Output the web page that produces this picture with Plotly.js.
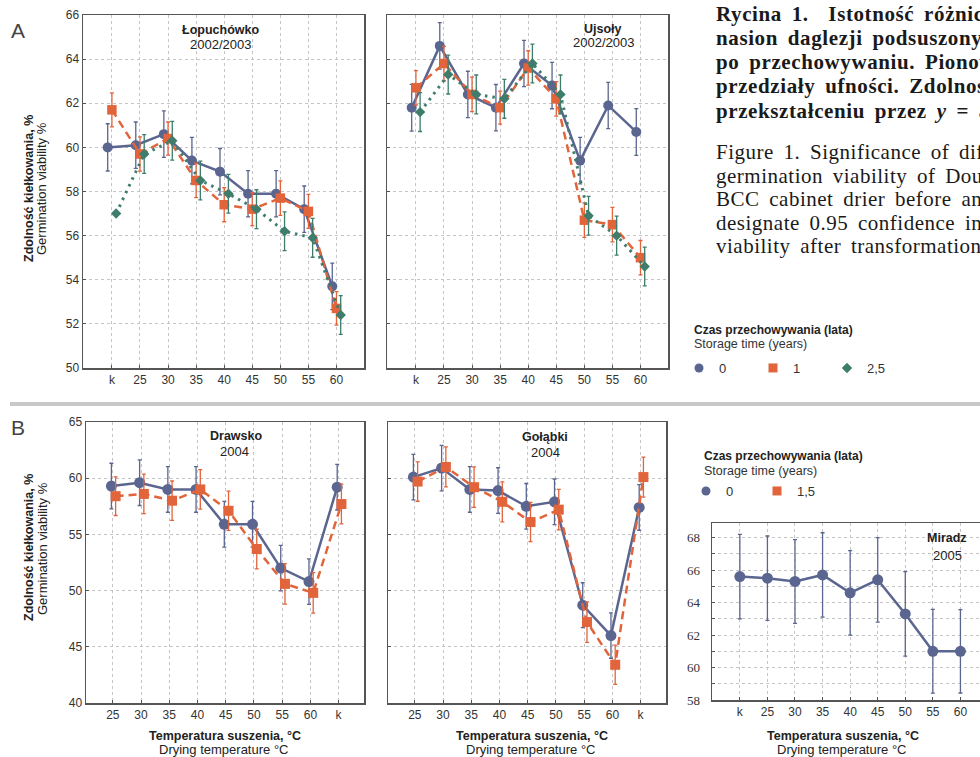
<!DOCTYPE html>
<html>
<head>
<meta charset="utf-8">
<script src="https://cdn.plot.ly/plotly-3.0.1.min.js"></script>
<style>
html,body{margin:0;padding:0;overflow:hidden;background:#fff;}
#chart{width:1000px;height:757px;}
</style>
</head>
<body>
<div id="chart"></div>
<script>
// ---------- DATA ----------
const catsA = ['k','25','30','35','40','45','50','55','60'];
const catsB = ['25','30','35','40','45','50','55','60','k'];
const catsC = ['k','25','30','35','40','45','50','55','60'];

// A: Łopuchówko 2002/2003
const lop0   = [60.0, 60.1, 60.6, 59.4, 58.9, 57.9, 57.9, 57.2, 53.7];
const lop0E  = [1.07, 1.05, 1.05, 1.05, 1.05, 1.05, 1.05, 1.05, 1.05];
const lop1   = [61.7, 59.7, 60.4, 58.5, 57.4, 57.2, 57.7, 57.1, 52.7];
const lop1E  = [0.77, 0.78, 0.75, 0.78, 0.77, 0.75, 0.78, 0.77, 0.76];
const lop25  = [57.0, 59.7, 60.3, 58.5, 57.9, 57.2, 56.2, 55.9, 52.4];
const lop25E = [0.0, 0.88, 0.88, 0.88, 0.88, 0.88, 0.88, 0.88, 0.88];

// A: Ujsoły 2002/2003
const ujs0   = [61.8, 64.6, 62.4, 61.8, 63.8, 62.8, 59.4, 61.9, 60.7];
const ujs0E  = [1.06, 1.05, 1.05, 1.05, 1.05, 1.05, 1.05, 1.05, 1.06];
const ujs1   = [62.7, 63.8, 62.4, 61.8, 63.6, 62.2, 56.7, 56.5, 55.0];
const ujs1E  = [0.78, 0.78, 0.78, 0.75, 0.78, 0.78, 0.78, 0.78, 0.78];
const ujs25  = [61.6, 63.3, 62.4, 62.2, 63.8, 62.4, 56.9, 56.0, 54.6];
const ujs25E = [0.88, 0.88, 0.88, 0.88, 0.88, 0.88, 0.88, 0.88, 0.88];

// B: Drawsko 2004
const dra0   = [59.3, 59.6, 59.0, 59.0, 55.9, 55.9, 52.0, 50.8, 59.2];
const dra0E  = [2.03, 2.03, 2.03, 2.03, 2.03, 2.03, 2.03, 2.03, 2.03];
const dra15  = [58.4, 58.6, 58.0, 59.0, 57.1, 53.7, 50.6, 49.8, 57.7];
const dra15E = [1.72, 1.76, 1.75, 1.76, 1.75, 1.76, 1.8, 1.8, 1.77];

// B: Gołąbki 2004
const gol0   = [60.1, 60.9, 59.0, 58.9, 57.5, 57.9, 48.7, 46.0, 57.4];
const gol0E  = [2.02, 2.02, 2.03, 2.03, 2.03, 2.03, 2.0, 2.02, 2.03];
const gol15  = [59.7, 61.0, 59.2, 57.9, 56.1, 57.2, 47.2, 43.4, 60.1];
const gol15E = [1.75, 1.78, 1.8, 1.78, 1.75, 1.8, 1.8, 1.75, 1.78];

// B: Miradz 2005
const mir0   = [65.6, 65.5, 65.3, 65.7, 64.6, 65.4, 63.3, 61.0, 61.0];
const mir0E  = [2.6, 2.6, 2.58, 2.6, 2.6, 2.6, 2.6, 2.58, 2.57];

// ---------- STYLE ----------
const W = 1000, H = 757;
const BLUE = '#5a6590', ORANGE = '#e2643a', GREEN = '#3e7d6c';
const FONT = 'Liberation Sans, Arial, sans-serif';
const SERIF = 'Liberation Serif, Times New Roman, serif';
const px = x => x / W;
const py = y => 1 - y / H;
const idx = (arr, off) => arr.map((_, i) => i + off);

function series(xa, ya, cats, vals, errs, off, kind, mSize) {
  const st = {
    c0: {color: BLUE, symbol: 'circle', dash: 'solid', width: 2.5},
    c1: {color: ORANGE, symbol: 'square', dash: '8px,5px', width: 2.5},
    c2: {color: GREEN, symbol: 'diamond', dash: '2.5px,5px', width: 3}
  }[kind];
  return {
    type: 'scatter', mode: 'lines+markers',
    x: idx(cats, off), y: vals, xaxis: xa, yaxis: ya,
    line: {color: st.color, width: st.width, dash: st.dash},
    marker: {color: st.color, symbol: st.symbol, size: mSize},
    error_y: {type: 'data', array: errs, visible: true, color: st.color, thickness: 1.3, width: 2},
    showlegend: false, hoverinfo: 'skip'
  };
}

const traces = [
  series('x','y', catsA, lop0, lop0E, -0.15, 'c0', 10),
  series('x','y', catsA, lop1, lop1E, 0.0, 'c1', 9.5),
  series('x','y', catsA, lop25, lop25E, 0.15, 'c2', 8),
  series('x2','y2', catsA, ujs0, ujs0E, -0.15, 'c0', 10),
  series('x2','y2', catsA, ujs1, ujs1E, 0.0, 'c1', 9.5),
  series('x2','y2', catsA, ujs25, ujs25E, 0.15, 'c2', 8),
  series('x3','y3', catsB, dra0, dra0E, -0.05, 'c0', 11),
  series('x3','y3', catsB, dra15, dra15E, 0.1, 'c1', 10),
  series('x4','y4', catsB, gol0, gol0E, -0.05, 'c0', 11),
  series('x4','y4', catsB, gol15, gol15E, 0.1, 'c1', 10),
  series('x5','y5', catsC, mir0, mir0E, 0.0, 'c0', 11)
];

// legend entries (markers only)
function legEntry(name, color, symbol, size, leg) {
  return {type: 'scatter', mode: 'markers', x: [null], y: [null], name: name,
    marker: {color: color, symbol: symbol, size: size}, legend: leg, showlegend: true, hoverinfo: 'skip'};
}
traces.push(legEntry('0', BLUE, 'circle', 9, 'legend'));
traces.push(legEntry('1', ORANGE, 'square', 9, 'legend'));
traces.push(legEntry('2,5', GREEN, 'diamond', 8, 'legend'));
traces.push(legEntry('0', BLUE, 'circle', 9, 'legend2'));
traces.push(legEntry('1,5', ORANGE, 'square', 9, 'legend2'));

function xax(dom, cats, range, anchor) {
  return {
    domain: dom, range: range, anchor: anchor,
    tickmode: 'array', tickvals: cats.map((_, i) => i), ticktext: cats,
    showline: true, mirror: true, linecolor: '#555', linewidth: 1.5,
    showgrid: true, gridcolor: '#c4c4c4', griddash: 'dot', gridwidth: 1,
    ticks: 'inside', ticklen: 3, tickcolor: '#555', zeroline: false,
    tickfont: {family: FONT, size: 12, color: '#333'}, fixedrange: true, automargin: false
  };
}
function yax(dom, range, dtick, labels, anchor) {
  return {
    domain: dom, range: range, dtick: dtick, anchor: anchor, tick0: 0,
    showline: true, mirror: true, linecolor: '#555', linewidth: 1.5,
    showgrid: true, gridcolor: '#c4c4c4', griddash: 'dot', gridwidth: 1,
    ticks: 'inside', ticklen: 3, tickcolor: '#555', zeroline: false,
    showticklabels: labels,
    tickfont: {family: FONT, size: 12, color: '#333'}, fixedrange: true, automargin: false
  };
}

const yDomA = [py(368), py(15)];
const yDomB = [py(703), py(422)];
const yDomC = [py(700), py(523)];

const layout = {
  width: W, height: H,
  margin: {l: 0, r: 0, t: 0, b: 0, pad: 0, autoexpand: false},
  paper_bgcolor: '#fff', plot_bgcolor: '#fff',
  font: {family: FONT, color: '#333'},
  xaxis: xax([px(83), px(364)], catsA, [-1.03, 8.98], 'y'),
  yaxis: yax(yDomA, [50, 66], 2, true, 'x'),
  xaxis2: xax([px(387), px(668)], catsA, [-1.03, 8.98], 'y2'),
  yaxis2: yax(yDomA, [50, 66], 2, false, 'x2'),
  xaxis3: xax([px(86), px(364)], catsB, [-0.95, 8.9], 'y3'),
  yaxis3: yax(yDomB, [40, 65], 5, true, 'x3'),
  xaxis4: xax([px(388), px(666)], catsB, [-0.95, 8.9], 'y4'),
  yaxis4: yax(yDomB, [40, 65], 5, false, 'x4'),
  xaxis5: xax([px(712), px(988)], catsC, [-1.01, 9.0], 'y5'),
  yaxis5: Object.assign(yax(yDomC, [58, 68.9], 2, true, 'x5'), {
    tickfont: {family: SERIF, size: 13, color: '#333'}, ticklabelstandoff: 8,
    minor: {dtick: 1, showgrid: true, gridcolor: '#c4c4c4', griddash: 'dot', ticks: 'inside', ticklen: 3, tickcolor: '#555'}
  }),
  legend: {
    x: px(679), y: py(353), xanchor: 'left', yanchor: 'top', orientation: 'h',
    bgcolor: 'rgba(0,0,0,0)', font: {family: FONT, size: 13, color: '#333'},
    entrywidth: 29, entrywidthmode: 'pixels', itemwidth: 30, tracegroupgap: 0
  },
  legend2: {
    x: px(686), y: py(476), xanchor: 'left', yanchor: 'top', orientation: 'h',
    bgcolor: 'rgba(0,0,0,0)', font: {family: FONT, size: 13, color: '#333'},
    entrywidth: 26, entrywidthmode: 'pixels', itemwidth: 30, tracegroupgap: 0
  },
  shapes: [
    {type: 'rect', xref: 'paper', yref: 'paper', x0: px(10), x1: 1, y0: py(406), y1: py(402),
     fillcolor: '#c8c8c8', line: {width: 0}}
  ],
  annotations: []
};

const ann = layout.annotations;
function txt(x, y, text, size, opts) {
  ann.push(Object.assign({xref: 'paper', yref: 'paper', x: px(x), y: py(y), text: text,
    showarrow: false, xanchor: 'center', yanchor: 'middle',
    font: {family: FONT, size: size, color: '#222'}}, opts || {}));
  return ann.length - 1;
}

// panel titles
txt(220, 30, '<b>Łopuchówko</b>', 12.5);
txt(220, 44, '2002/2003', 13);
txt(603, 29, '<b>Ujsoły</b>', 12.5);
txt(603, 43, '2002/2003', 13);
txt(236, 436, '<b>Drawsko</b>', 12.5);
txt(234, 451, '2004', 13);
txt(545, 437, '<b>Gołąbki</b>', 12.5);
txt(545, 452, '2004', 13);
txt(947, 538, '<b>Miradz</b>', 12.5);
txt(947, 555, '2005', 13);

// panel letters
txt(18, 31, 'A', 21, {font: {family: FONT, size: 21, color: '#444'}});
txt(18, 427, 'B', 21, {font: {family: FONT, size: 21, color: '#444'}});

// y axis titles
txt(29, 189, '<b>Zdolność kiełkowania, %</b>', 12.5, {textangle: -90});
txt(42, 189, 'Germination viability %', 13, {textangle: -90});
txt(29, 548, '<b>Zdolność kiełkowania, %</b>', 12.5, {textangle: -90});
txt(42, 549, 'Germination viability %', 13, {textangle: -90});

// x axis titles
[[225, 223], [532, 530], [843, 841]].forEach(p => {
  txt(p[0], 736, '<b>Temperatura suszenia, °C</b>', 12.5);
  txt(p[1], 749, 'Drying temperature °C', 13);
});

// legend titles
txt(692, 330, '<b>Czas przechowywania (lata)</b>', 12, {xanchor: 'left'});
txt(692, 344, 'Storage time (years)', 12.5, {xanchor: 'left', font: {family: FONT, size: 12.5, color: '#333'}});
txt(702, 456, '<b>Czas przechowywania (lata)</b>', 12, {xanchor: 'left'});
txt(702, 471, 'Storage time (years)', 12.5, {xanchor: 'left', font: {family: FONT, size: 12.5, color: '#333'}});

// caption
const capBold = [
  'Rycina 1.  Istotność różnic zdolności kiełkowania',
  'nasion daglezji podsuszonych w suszarni BCC przed i',
  'po przechowywaniu. Pionowe słupki oznaczają 0,95',
  'przedziały ufności. Zdolność kiełkowania po',
  'przekształceniu przez <i>y</i> = arcsin√x'
];
const capNorm = [
  'Figure 1. Significance of differences in the',
  'germination viability of Douglas fir seeds dried in',
  'BCC cabinet drier before and after storage. Vertical bars',
  'designate 0.95 confidence intervals. Germination',
  'viability after transformation by y = arcsin√x'
];
const bY = [14, 38, 62, 86, 111];
const nY = [152, 176, 199, 223, 246];
capBold.forEach((t, i) => txt(714, bY[i],
  '<span style="letter-spacing:0.6px;word-spacing:4px"><b>' + t + '</b></span>', 21,
  {xanchor: 'left', font: {family: SERIF, size: 21, color: '#1a1a1a'}}));
capNorm.forEach((t, i) => txt(714, nY[i],
  '<span style="letter-spacing:0.5px;word-spacing:4px">' + t + '</span>', 21,
  {xanchor: 'left', font: {family: SERIF, size: 21, color: '#1a1a1a'}}));

Plotly.newPlot('chart', traces, layout, {displayModeBar: false, staticPlot: true});
</script>
</body>
</html>
